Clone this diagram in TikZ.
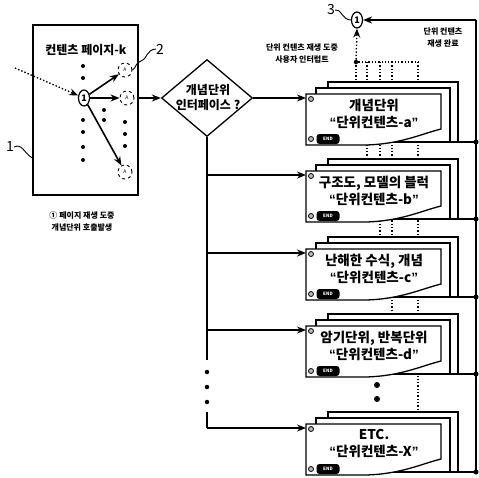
\documentclass[tikz,border=0pt]{standalone}
\usepackage{fontspec}
\usetikzlibrary{arrows.meta,shapes.geometric}
\newfontfamily\kr{Noto Sans CJK KR}
\newfontfamily\lat{Liberation Sans}
\newcommand\myLq{{\lat\bfseries “}}
\newcommand\myRq{{\lat\bfseries ”}}
\tikzset{
  ln/.style={line width=1.3pt},
  arr/.style={line width=1.6pt,-{Stealth[length=9pt,width=7pt]}},
  dotarr/.style={line width=1.4pt,dotted,-{Stealth[length=9pt,width=7pt]}},
  dotline/.style={line width=1.3pt,dotted},
  boxline/.style={line width=1.3pt},
  bdot/.style={circle,fill=black,inner sep=0pt,minimum size=5pt},
  sdot/.style={circle,fill=black,inner sep=0pt,minimum size=4pt},
  cdot/.style={circle,draw,line width=0.8pt,fill=gray!55,inner sep=0pt,minimum size=5pt},
  endtab/.style={rounded corners=3pt,fill=black,text=white,inner sep=0pt,minimum width=23pt,minimum height=10pt,font=\kr\bfseries\fontsize{4.5}{5}\selectfont},
  anode/.style={circle,draw,dashed,line width=0.9pt,inner sep=0pt,minimum size=14pt,font=\kr\fontsize{5}{6}\selectfont},
  onenode/.style={ellipse,draw,line width=1.2pt,inner sep=0pt,minimum width=11pt,minimum height=16pt,font=\kr\bfseries\fontsize{9}{10}\selectfont},
  boxtext/.style={align=center,font=\kr\bfseries\fontsize{13.5}{17}\selectfont,inner sep=0pt},
  small/.style={align=center,font=\kr\bfseries\fontsize{8}{12}\selectfont,inner sep=0pt},
  numlab/.style={font=\kr\fontsize{14}{16}\selectfont,inner sep=0pt},
}
\newcommand\unitstack[4]{%
 \begin{scope}[shift={(306,#2)}]
  \draw[boxline] (80,48) -- (170,48) node[bdot]{};
  \draw[boxline,fill=white] (22,-12) rectangle (152,48);
  \draw[boxline,fill=white] (10,-6) rectangle (144,48);
  \draw[boxline,fill=white] (0,0) -- (135,0) -- (135,35) .. controls (115,40) and (95,50) .. (60,51) -- (0,51) -- cycle;
  \coordinate (#1in) at (0,4);
  \node[cdot] at (5,5) {};
  \node[cdot] at (5,45) {};
  \node[endtab] at (22,45) {END};
  \node[boxtext] (#1) at (68,19.5) {#3\\#4};
 \end{scope}}
\begin{document}
\begin{tikzpicture}[x=1pt,y=-1pt]
\useasboundingbox (0,0) rectangle (479,477);

% ---------- left: content page ----------
\node[draw,line width=1.4pt,minimum width=105pt,minimum height=170pt,inner sep=0pt] (page) at (85.5,110) {};
\node[font=\kr\bfseries\fontsize{12}{14}\selectfont,inner sep=0pt] (ptitle) at (86,50) {컨텐츠 페이지-k};
\node[onenode] (p1) at (84,98) {1};
\node[anode] (a1) at (125,70) {A};
\node[anode] (a2) at (127,98) {A};
\node[anode] (a3) at (125,172) {A};
\coordinate (src) at (15,68);
\draw[dotarr] (src) -- (p1);
\draw[arr] (p1) -- (a1);
\draw[arr] (p1) -- (a2);
\draw[arr] (p1) -- (a3);
\foreach \yy in {66,78,120,132,147,160} \node[sdot] at (83,\yy) {};
\foreach \yy in {110,120} \node[sdot] at (104,\yy) {};
\foreach \yy in {122,134,146} \node[sdot] at (125,\yy) {};

\node[numlab] (n2) at (160,49) {2};
\draw[line width=0.9pt] (n2.west) .. controls (146,50) and (148,58) .. (141,61) .. controls (135,63) and (137,67) .. (a1.east);
\node[numlab] (n1) at (10,147) {1};
\draw[line width=0.9pt] (n1.east) .. controls (22,143) and (24,153) .. (page.west |- 0,158);

\node[small] (lab1) at (82,221) {① 페이지 재생 도중\\개념단위 호출발생};

% ---------- diamond ----------
\node[diamond,draw,line width=1.3pt,minimum width=91pt,minimum height=77pt,inner sep=0pt] (dia) at (207,98) {};
\node[font=\kr\bfseries\fontsize{12}{15}\selectfont,align=center,inner sep=0pt] (diatext) at (208,98) {개념단위\\인터페이스 ?};
\draw[arr,line width=2.2pt] (page.east |- dia.west) -- (dia.west);

% ---------- interrupt dotted lines ----------
\node[bdot,minimum size=4.5pt] (idot) at (356,62) {};
\draw[dotline] (idot) -- (418,62);
\draw[dotline] (356,62) -- (356,94);
\draw[dotline] (367,62) -- (367,171);
\draw[dotline] (380,62) -- (380,249);
\draw[dotline] (392,62) -- (392,326);
\draw[dotline] (418,62) -- (418,424);

% ---------- unit content stacks ----------
\unitstack{ua}{94}{개념단위}{\myLq 단위컨텐츠-a\myRq}
\unitstack{ub}{171}{구조도, 모델의 블럭}{\myLq 단위컨텐츠-b\myRq}
\unitstack{uc}{249}{난해한 수식, 개념}{\myLq 단위컨텐츠-c\myRq}
\unitstack{ud}{326}{암기단위, 반복단위}{\myLq 단위컨텐츠-d\myRq}
\unitstack{ux}{424}{ETC.}{\myLq 단위컨텐츠-X\myRq}

\node[bdot,minimum size=6pt] at (377,385) {};
\node[bdot,minimum size=6pt] at (377,399) {};

% ---------- branches from diamond ----------
\draw[arr] (dia.east) -- (uain);
\draw[ln] (dia.south) -- (207,360);
\foreach \yy in {372,387,402} \node[bdot,minimum size=4.5pt] at (207,\yy) {};
\draw[ln] (207,412) -- (dia.south |- uxin);
\draw[arr] (dia.south |- uxin) -- (uxin);
\draw[arr] (dia.south |- ubin) -- (ubin);
\draw[arr] (dia.south |- ucin) -- (ucin);
\draw[arr] (dia.south |- udin) -- (udin);

% ---------- top: return circle ----------
\node[onenode] (c3) at (357,20) {1};
\draw[ln] (476,472) -- (476,20);
\draw[arr] (476,20) -- (c3.east);
\draw[dotarr] (idot) -- (c3.south);
\node[numlab] (n3) at (331,10) {3};
\draw[line width=0.9pt] (n3.east) .. controls (341,8) and (342,20) .. (c3.west);

\node[small] (lab2) at (302,54) {단위 컨텐츠 재생 도중\\사용자 인터럽트};
\node[small] (lab3) at (443,38) {단위 컨텐츠\\재생 완료};
\end{tikzpicture}
\end{document}
